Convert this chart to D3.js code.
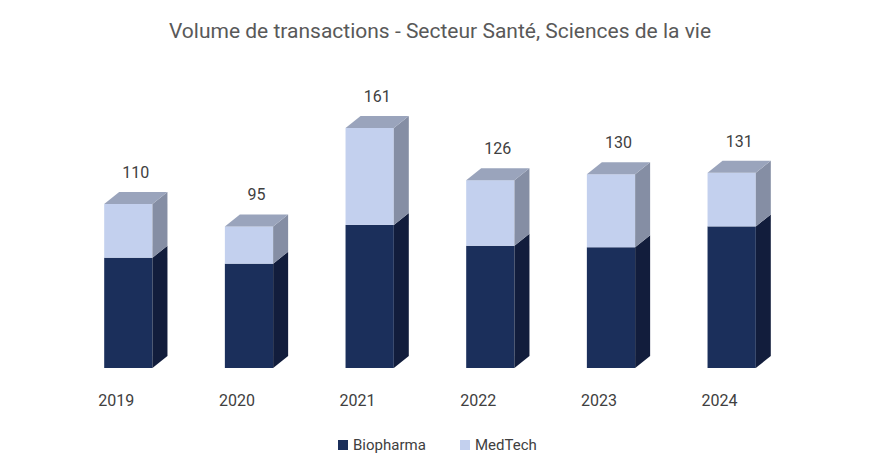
<!DOCTYPE html><html><head><meta charset="utf-8"><script src="https://cdn.jsdelivr.net/npm/d3@7"></script>
<style>body{margin:0;background:#fff}</style></head><body><svg id="c" width="880" height="476"></svg>
<script>
const years=["2019","2020","2021","2022","2023","2024"];
const biopharma=[74,70,96,82,81,95];
const medtech=[36,25,65,44,49,36];
const totals=[110,95,161,126,130,131];
const svg=d3.select("#c");
const W=880,H=476;
svg.append("rect").attr("width",W).attr("height",H).attr("fill","#fff");
svg.append("text").attr("x",440).attr("y",38).attr("text-anchor","middle").attr("font-family","Roboto, 'Open Sans', sans-serif").attr("font-size",21).attr("fill","#595959").text("Volume de transactions - Secteur Santé, Sciences de la vie");
const x=d3.scaleBand().domain(years).range([68,792]).paddingInner(0.6).paddingOuter(0.3);
const y=d3.scaleLinear().domain([0,161]).range([368,128]);
const dx=15,dy=12;
const font="Roboto, 'Open Sans', sans-serif";
const series=[{k:"Biopharma",v:biopharma,f:"#1b2f5b",s:"#121d3c",t:"#2a3d66"},{k:"MedTech",v:medtech,f:"#c3d0ee",s:"#858ea4",t:"#9aa4bc"}];
years.forEach((yr,i)=>{
  const x0=x(yr),w=x.bandwidth();
  let base=0;
  series.forEach((s,j)=>{
    const v=s.v[i],y0=y(base),y1=y(base+v);
    const g=svg.append("g");
    g.append("rect").attr("x",x0).attr("y",y1).attr("width",w).attr("height",y0-y1).attr("fill",s.f);
    g.append("path").attr("d",`M${x0+w},${y0}L${x0+w+dx},${y0-dy}L${x0+w+dx},${y1-dy}L${x0+w},${y1}Z`).attr("fill",s.s);
    if(j===series.length-1)g.append("path").attr("d",`M${x0},${y1}L${x0+dx},${y1-dy}L${x0+w+dx},${y1-dy}L${x0+w},${y1}Z`).attr("fill",s.t);
    base+=v;
  });
  svg.append("text").attr("x",x0+w/2+dx/2).attr("y",y(totals[i])-dy-14).attr("text-anchor","middle").attr("font-family",font).attr("font-size",16).attr("fill","#404040").text(totals[i]);
  svg.append("text").attr("x",x0+w/4).attr("y",406).attr("text-anchor","middle").attr("font-family",font).attr("font-size",16).attr("fill","#404040").text(yr);
});
const leg=[["Biopharma","#1b2f5b",338],["MedTech","#c3d0ee",460]];
leg.forEach(([n,c,lx])=>{
  svg.append("rect").attr("x",lx).attr("y",440).attr("width",10).attr("height",10).attr("fill",c);
  svg.append("text").attr("x",lx+15).attr("y",450).attr("font-family",font).attr("font-size",15).attr("fill","#404040").text(n);
});
</script></body></html>
